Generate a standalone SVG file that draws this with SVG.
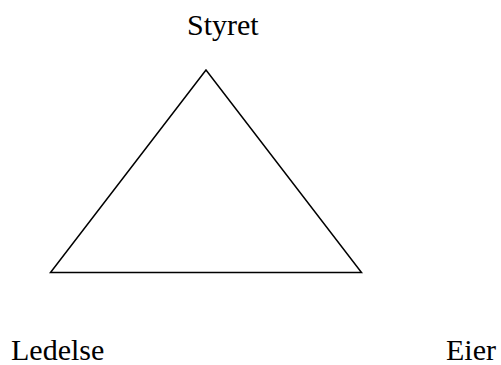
<svg xmlns="http://www.w3.org/2000/svg" width="501" height="365" viewBox="0 0 501 365">
<style>
.lbl{font-family:"Liberation Serif","Times New Roman",serif;font-size:30px;fill:#000}
.edge{fill:none;stroke:#000;stroke-width:1.5;stroke-linejoin:miter}
</style>
<rect width="501" height="365" fill="#fff"/>
<g id="connectors">
<polygon class="edge" points="206,70 50.5,272.5 361.5,272.5"/>
</g>
<g id="node-styret"><text class="lbl" x="187" y="35">Styret</text></g>
<g id="node-ledelse"><text class="lbl" x="11" y="360">Ledelse</text></g>
<g id="node-eier"><text class="lbl" x="446" y="360">Eier</text></g>
</svg>
